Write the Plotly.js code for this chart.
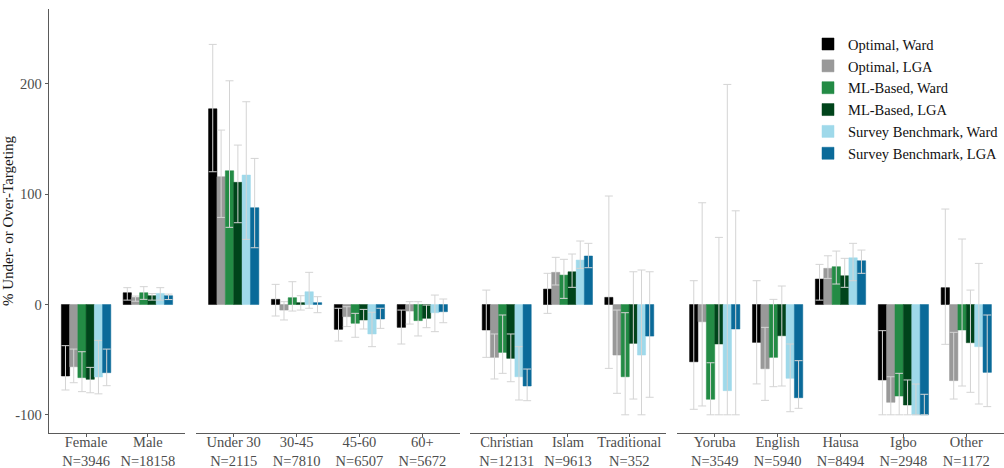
<!DOCTYPE html>
<html>
<head>
<meta charset="utf-8">
<script src="https://cdn.plot.ly/plotly-3.0.1.min.js"></script>
<style>html,body{margin:0;padding:0;background:#fff;}#chart{width:1004px;height:468px;}</style>
</head>
<body>
<div id="chart"></div>
<script>
// Categories (in order) and facet membership
const categories = ["Female","Male","Under 30","30-45","45-60","60+","Christian","Islam","Traditional","Yoruba","English","Hausa","Igbo","Other"];
const sampleN = [3946,18158,2115,7810,6507,5672,12131,9613,352,3549,5940,8494,2948,1172];
const facetOf = [0,0,1,1,1,1,2,2,2,3,3,3,3,3];

const seriesNames = ["Optimal, Ward","Optimal, LGA","ML-Based, Ward","ML-Based, LGA","Survey Benchmark, Ward","Survey Benchmark, LGA"];

// Estimates
const optWard = [-64.8, 10.7, 177.5, 4.7, -22.5, -20.7, -23.1, 14.0, 6.5, -51.9, -34.3, 23.1, -68.4, 15.3];
const optLGA  = [-56.4, 6.5, 115.9, -5.0, -11.0, -5.9, -47.9, 29.2, -45.8, -15.6, -58.2, 32.8, -88.7, -69.0];
const mlWard  = [-66.3, 10.7, 121.3, 6.2, -17.0, -14.6, -43.4, 26.7, -65.5, -85.9, -47.9, 34.3, -83.0, -23.1];
const mlLGA   = [-67.8, 8.0, 110.8, 1.7, -14.0, -12.5, -48.8, 29.7, -35.2, -35.8, -28.3, 26.1, -91.1, -34.6];
const svWard  = [-65.7, 10.1, 117.4, 11.6, -26.7, -7.4, -65.5, 40.3, -45.8, -78.1, -66.9, 42.4, -100.0, -38.2];
const svLGA   = [-61.8, 8.0, 87.8, 1.7, -13.1, -6.5, -73.9, 44.0, -28.6, -22.2, -84.5, 39.7, -100.0, -61.5];

// Interval lower bounds
const optWardLo = [-77.5, 4.0, 120.4, -10.4, -33.1, -35.8, -47.9, -8.0, -57.9, -95.0, -72.0, 4.0, -100.0, -36.1];
const optLGALo  = [-70.9, 3.0, 79.0, -14.0, -20.0, -17.7, -67.5, 17.7, -80.5, -92.0, -86.9, 23.7, -100.0, -85.7];
const mlWardLo  = [-79.0, 4.7, 70.0, -5.9, -29.7, -28.5, -62.4, 5.6, -100.0, -100.0, -74.5, 18.6, -100.0, -73.9];
const mlLGALo   = [-80.0, 4.0, 74.2, -5.0, -22.2, -21.0, -70.0, 15.6, -85.7, -100.0, -73.9, 15.6, -100.0, -79.6];
const svWardLo  = [-81.0, 4.0, 59.1, -3.4, -38.2, -24.6, -86.6, 32.8, -100.0, -100.0, -97.2, 21.6, -100.0, -90.2];
const svLGALo   = [-73.6, 4.5, 51.5, -7.4, -21.6, -16.5, -87.2, 33.4, -84.1, -100.0, -94.1, 28.3, -100.0, -92.6];

// Interval upper bounds
const optWardHi = [-37.3, 15.3, 235.9, 18.3, -3.4, -5.0, 13.1, 28.3, 98.4, 21.6, 21.6, 36.4, -23.7, 86.6];
const optLGAHi  = [-40.4, 7.7, 158.2, 2.6, -2.0, 2.6, -26.7, 42.8, -5.0, 92.3, -20.7, 44.2, -65.5, -25.2];
const mlWardHi  = [-42.8, 16.2, 202.9, 20.7, -8.0, 2.6, -9.5, 41.0, -7.4, -52.8, 4.7, 48.5, -62.4, 59.4];
const mlLGAHi   = [-57.0, 10.0, 144.6, 8.0, -4.4, -0.5, -26.7, 45.8, 29.7, 60.9, 16.8, 41.9, -68.4, 13.1];
const svWardHi  = [-32.5, 15.3, 183.9, 29.2, -7.0, 8.6, -38.2, 57.6, 31.3, 199.6, -35.8, 55.5, -72.1, 37.3];
const svLGAHi   = [-40.4, 9.5, 132.5, 7.1, -3.4, 5.0, -58.5, 55.5, 29.7, 85.0, -50.9, 49.4, -81.4, -9.5];

const yTicks = [-100, 0, 100, 200];

const values = [optWard, optLGA, mlWard, mlLGA, svWard, svLGA];
const lows   = [optWardLo, optLGALo, mlWardLo, mlLGALo, svWardLo, svLGALo];
const highs  = [optWardHi, optLGAHi, mlWardHi, mlLGAHi, svWardHi, svLGAHi];
const colors = ["#000000", "#999999", "#238b45", "#00441b", "#9fd9ea", "#0a6a99"];

const FONT = "Liberation Serif, DejaVu Serif, serif";
const nFacets = 4;
const domains = [[0, 0.1424], [0.1539, 0.4304], [0.4408, 0.6461], [0.6576, 1]];
const tickLabel = categories.map((c, i) => c + "<br>N=" + sampleN[i]);

const traces = [];
for (let s = 0; s < seriesNames.length; s++) {
  for (let f = 0; f < nFacets; f++) {
    const idx = categories.map((c, i) => i).filter(i => facetOf[i] === f);
    const y = idx.map(i => values[s][i]);
    traces.push({
      type: "bar",
      name: seriesNames[s],
      legendgroup: seriesNames[s],
      showlegend: f === 0,
      x: idx.map(i => tickLabel[i]),
      y: y,
      xaxis: f === 0 ? "x" : "x" + (f + 1),
      yaxis: "y",
      marker: {color: colors[s], line: {color: colors[s], width: 0.5}},
      error_y: {
        type: "data",
        symmetric: false,
        array: idx.map(i => highs[s][i] - values[s][i]),
        arrayminus: idx.map(i => values[s][i] - lows[s][i]),
        color: "#d4d4d4",
        thickness: 1,
        width: 4
      },
      hoverinfo: "y+name"
    });
  }
}

const layout = {
  width: 1004,
  height: 468,
  margin: {l: 49, r: 0, t: 9, b: 35},
  paper_bgcolor: "#ffffff",
  plot_bgcolor: "#ffffff",
  barmode: "group",
  bargap: 0.2,
  bargroupgap: 0,
  font: {family: FONT, size: 14, color: "#4d4d4d"},
  showlegend: true,
  legend: {
    x: 1, xanchor: "right", y: 0.955, yanchor: "top",
    font: {family: FONT, size: 14.5, color: "#111111"},
    bgcolor: "rgba(255,255,255,0)",
    traceorder: "normal",
    tracegroupgap: 0
  },
  yaxis: {
    range: [-116.5, 268],
    tickvals: yTicks,
    ticktext: yTicks.map(String),
    showline: true, linecolor: "#5a5a5a", linewidth: 1.3,
    ticks: "outside", ticklen: 3, tickcolor: "#5a5a5a", tickwidth: 1,
    showgrid: false, zeroline: false,
    tickfont: {family: FONT, size: 14.5, color: "#4d4d4d"},
    title: {text: "% Under- or Over-Targeting", font: {family: FONT, size: 15, color: "#1a1a1a"}, standoff: 0},
    automargin: false
  }
};

for (let f = 0; f < nFacets; f++) {
  const idx = categories.map((c, i) => i).filter(i => facetOf[i] === f);
  const key = f === 0 ? "xaxis" : "xaxis" + (f + 1);
  layout[key] = {
    domain: domains[f],
    anchor: "y",
    type: "category",
    categoryorder: "array",
    categoryarray: idx.map(i => tickLabel[i]),
    range: [-0.6, idx.length - 0.4],
    showline: true, linecolor: "#5a5a5a", linewidth: 1.3,
    ticks: "outside", ticklen: 3, tickcolor: "#5a5a5a", tickwidth: 1,
    ticklabelstandoff: -8,
    showgrid: false, zeroline: false,
    tickfont: {family: FONT, size: 14.5, color: "#4d4d4d"},
    automargin: false
  };
}

Plotly.newPlot("chart", traces, layout, {displayModeBar: false, staticPlot: true});
</script>
</body>
</html>
